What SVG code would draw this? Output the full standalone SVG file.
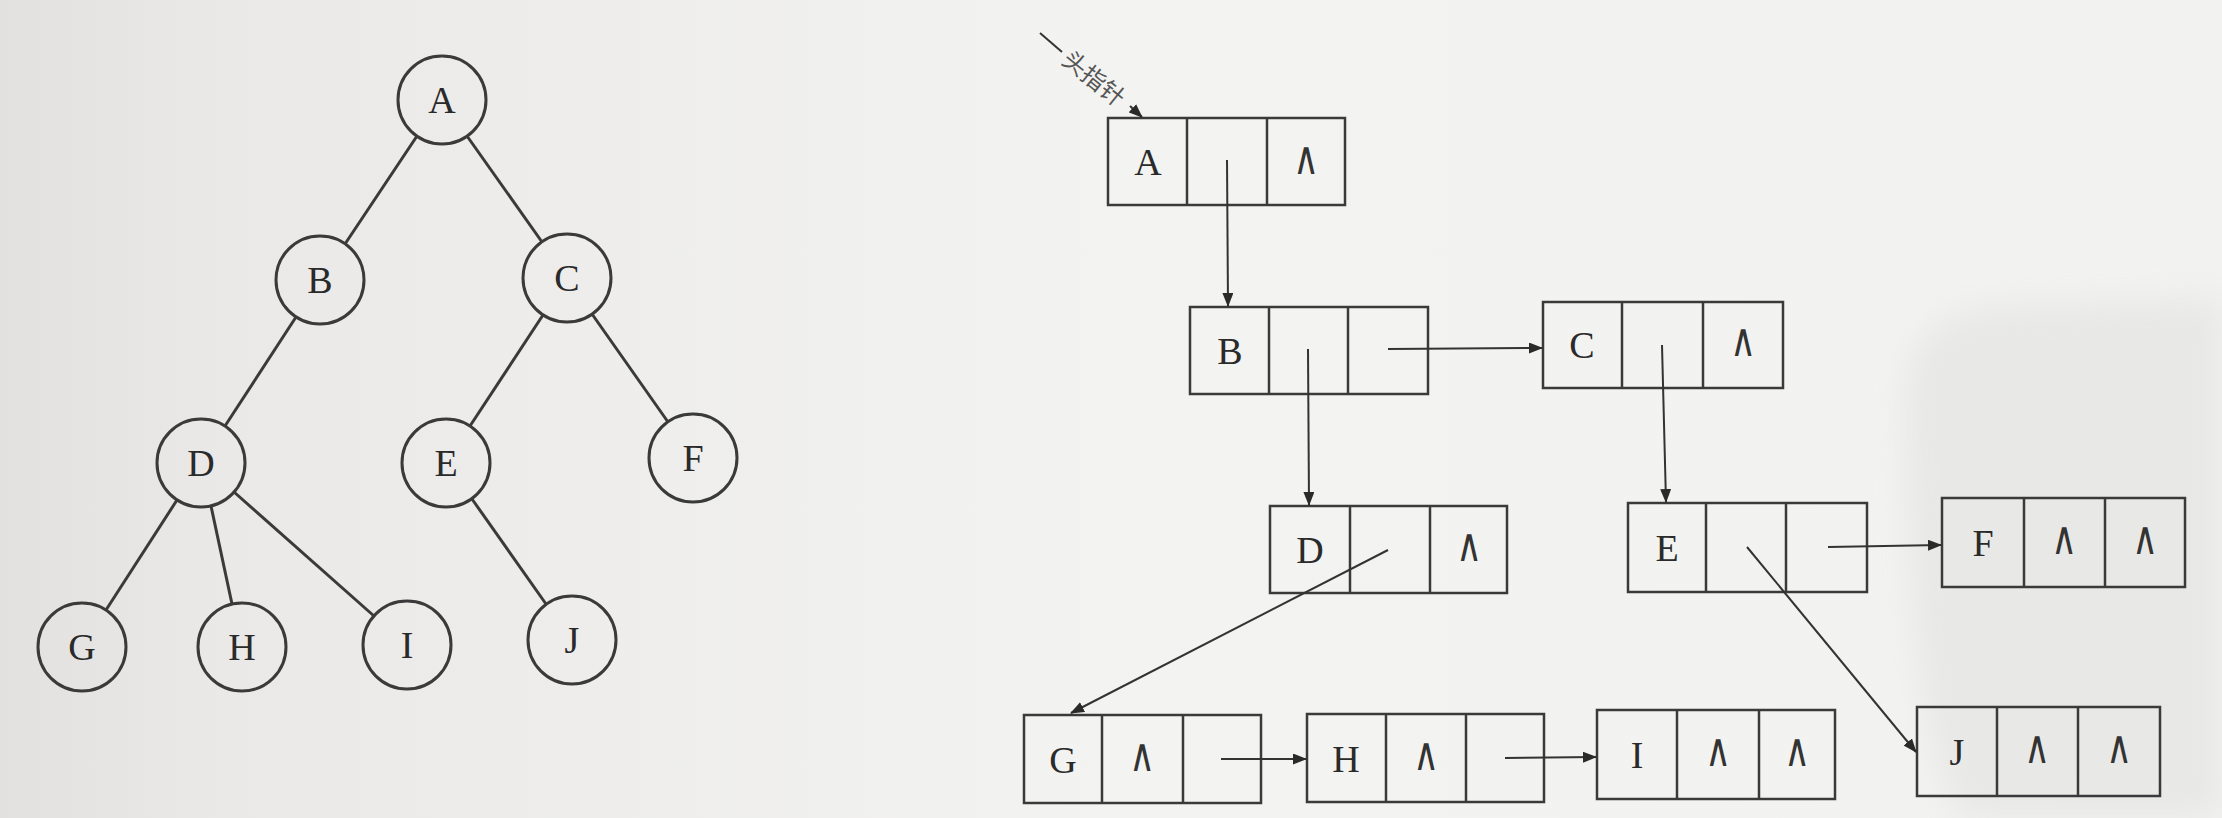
<svg xmlns="http://www.w3.org/2000/svg" width="2222" height="818" viewBox="0 0 2222 818">
<defs>
<linearGradient id="bg" x1="0" y1="0" x2="1" y2="0">
<stop offset="0" stop-color="#e2e1df"/>
<stop offset="0.1" stop-color="#eae9e7"/>
<stop offset="0.5" stop-color="#f3f3f1"/>
<stop offset="1" stop-color="#f2f2f0"/>
</linearGradient>
<filter id="soft" x="-20%" y="-20%" width="140%" height="140%">
<feGaussianBlur stdDeviation="16"/>
</filter>
<marker id="arr" viewBox="0 0 14 11" refX="13" refY="5.5" markerWidth="14" markerHeight="11" markerUnits="userSpaceOnUse" orient="auto">
<path d="M0,0 L14,5.5 L0,11 Z" fill="#2a2a2a"/>
</marker>
</defs>
<style>
.tc{fill:none;stroke:#3a3a3a;stroke-width:3}
.te{stroke:#3a3a3a;stroke-width:3}
.lbl{font-family:"Liberation Serif","Times New Roman",serif;font-size:38px;fill:#2a2a2a;text-anchor:middle;dominant-baseline:central}
.box{fill:none;stroke:#3a3a3a;stroke-width:2.5}
.nul{font-family:"DejaVu Sans","Liberation Sans",sans-serif;font-size:32px;fill:#333;text-anchor:middle;dominant-baseline:central}
.ptr{stroke:#333;stroke-width:2;fill:none}
.pa{stroke:#333;stroke-width:2;fill:none;marker-end:url(#arr)}
.hp{font-family:"Noto Sans CJK SC","Liberation Sans",sans-serif;font-size:24px;fill:#555;text-anchor:middle;dominant-baseline:central}
</style>
<rect x="0" y="0" width="2222" height="818" fill="url(#bg)"/>
<path d="M1905,400 Q1905,308 2010,305 L2222,298 L2222,818 L1960,818 Q1905,720 1905,400 Z" fill="#e4e4e2" opacity="0.7" filter="url(#soft)"/>

<g id="tree-edges">
<line class="te" x1="417" y1="136" x2="345" y2="244"/>
<line class="te" x1="467" y1="136" x2="542" y2="242"/>
<line class="te" x1="296" y1="317" x2="225" y2="426"/>
<line class="te" x1="543" y1="315" x2="470" y2="426"/>
<line class="te" x1="592" y1="314" x2="668" y2="422"/>
<line class="te" x1="177" y1="500" x2="106" y2="610"/>
<line class="te" x1="211" y1="506" x2="232" y2="604"/>
<line class="te" x1="234" y1="492" x2="374" y2="616"/>
<line class="te" x1="472" y1="499" x2="546" y2="604"/>
</g>
<g id="tA"><circle class="tc" cx="442" cy="100" r="44"/><text class="lbl" x="442" y="100">A</text></g>
<g id="tB"><circle class="tc" cx="320" cy="280" r="44"/><text class="lbl" x="320" y="280">B</text></g>
<g id="tC"><circle class="tc" cx="567" cy="278" r="44"/><text class="lbl" x="567" y="278">C</text></g>
<g id="tD"><circle class="tc" cx="201" cy="463" r="44"/><text class="lbl" x="201" y="463">D</text></g>
<g id="tE"><circle class="tc" cx="446" cy="463" r="44"/><text class="lbl" x="446" y="463">E</text></g>
<g id="tF"><circle class="tc" cx="693" cy="458" r="44"/><text class="lbl" x="693" y="458">F</text></g>
<g id="tG"><circle class="tc" cx="82" cy="647" r="44"/><text class="lbl" x="82" y="647">G</text></g>
<g id="tH"><circle class="tc" cx="242" cy="647" r="44"/><text class="lbl" x="242" y="647">H</text></g>
<g id="tI"><circle class="tc" cx="407" cy="645" r="44"/><text class="lbl" x="407" y="645">I</text></g>
<g id="tJ"><circle class="tc" cx="572" cy="640" r="44"/><text class="lbl" x="572" y="640">J</text></g>

<g id="lA"><rect class="box" x="1108" y="118" width="237" height="87"/><line class="box" x1="1187" y1="118" x2="1187" y2="205"/><line class="box" x1="1267" y1="118" x2="1267" y2="205"/><text class="lbl" x="1148" y="162">A</text><text class="nul" transform="translate(1306 158) scale(1.1 1.45)">∧</text></g>
<g id="lB"><rect class="box" x="1190" y="307" width="238" height="87"/><line class="box" x1="1269" y1="307" x2="1269" y2="394"/><line class="box" x1="1348" y1="307" x2="1348" y2="394"/><text class="lbl" x="1230" y="351">B</text></g>
<g id="lC"><rect class="box" x="1543" y="302" width="240" height="86"/><line class="box" x1="1622" y1="302" x2="1622" y2="388"/><line class="box" x1="1703" y1="302" x2="1703" y2="388"/><text class="lbl" x="1582" y="345">C</text><text class="nul" transform="translate(1743 340) scale(1.1 1.45)">∧</text></g>
<g id="lD"><rect class="box" x="1270" y="506" width="237" height="87"/><line class="box" x1="1350" y1="506" x2="1350" y2="593"/><line class="box" x1="1430" y1="506" x2="1430" y2="593"/><text class="lbl" x="1310" y="550">D</text><text class="nul" transform="translate(1469 545) scale(1.1 1.45)">∧</text></g>
<g id="lE"><rect class="box" x="1628" y="503" width="239" height="89"/><line class="box" x1="1706" y1="503" x2="1706" y2="592"/><line class="box" x1="1786" y1="503" x2="1786" y2="592"/><text class="lbl" x="1667" y="548">E</text></g>
<g id="lF"><rect class="box" x="1942" y="498" width="243" height="89"/><line class="box" x1="2024" y1="498" x2="2024" y2="587"/><line class="box" x1="2105" y1="498" x2="2105" y2="587"/><text class="lbl" x="1983" y="543">F</text><text class="nul" transform="translate(2064 538) scale(1.1 1.45)">∧</text><text class="nul" transform="translate(2145 538) scale(1.1 1.45)">∧</text></g>
<g id="lG"><rect class="box" x="1024" y="715" width="237" height="88"/><line class="box" x1="1102" y1="715" x2="1102" y2="803"/><line class="box" x1="1183" y1="715" x2="1183" y2="803"/><text class="lbl" x="1063" y="760">G</text><text class="nul" transform="translate(1142 755) scale(1.1 1.45)">∧</text></g>
<g id="lH"><rect class="box" x="1307" y="714" width="237" height="88"/><line class="box" x1="1386" y1="714" x2="1386" y2="802"/><line class="box" x1="1466" y1="714" x2="1466" y2="802"/><text class="lbl" x="1346" y="759">H</text><text class="nul" transform="translate(1426 754) scale(1.1 1.45)">∧</text></g>
<g id="lI"><rect class="box" x="1597" y="710" width="238" height="89"/><line class="box" x1="1677" y1="710" x2="1677" y2="799"/><line class="box" x1="1759" y1="710" x2="1759" y2="799"/><text class="lbl" x="1637" y="755">I</text><text class="nul" transform="translate(1718 750) scale(1.1 1.45)">∧</text><text class="nul" transform="translate(1797 750) scale(1.1 1.45)">∧</text></g>
<g id="lJ"><rect class="box" x="1917" y="707" width="243" height="89"/><line class="box" x1="1997" y1="707" x2="1997" y2="796"/><line class="box" x1="2078" y1="707" x2="2078" y2="796"/><text class="lbl" x="1957" y="752">J</text><text class="nul" transform="translate(2037 747) scale(1.1 1.45)">∧</text><text class="nul" transform="translate(2119 747) scale(1.1 1.45)">∧</text></g>

<g id="head">
<line class="ptr" x1="1040" y1="33" x2="1062" y2="52"/>
<text class="hp" x="1095" y="77" transform="rotate(39 1095 77)">头指针</text>
<line class="pa" x1="1130" y1="106" x2="1142" y2="117"/>
</g>

<g id="connectors">
<line class="pa" x1="1227" y1="160" x2="1228" y2="306"/>
<line class="pa" x1="1308" y1="349" x2="1309" y2="505"/>
<line class="pa" x1="1388" y1="349" x2="1542" y2="348"/>
<line class="pa" x1="1662" y1="345" x2="1666" y2="502"/>
<line class="pa" x1="1388" y1="550" x2="1071" y2="713"/>
<line class="pa" x1="1747" y1="547" x2="1916" y2="752"/>
<line class="pa" x1="1828" y1="547" x2="1941" y2="545"/>
<line class="pa" x1="1221" y1="759" x2="1306" y2="759"/>
<line class="pa" x1="1505" y1="758" x2="1596" y2="757"/>
</g>
</svg>
